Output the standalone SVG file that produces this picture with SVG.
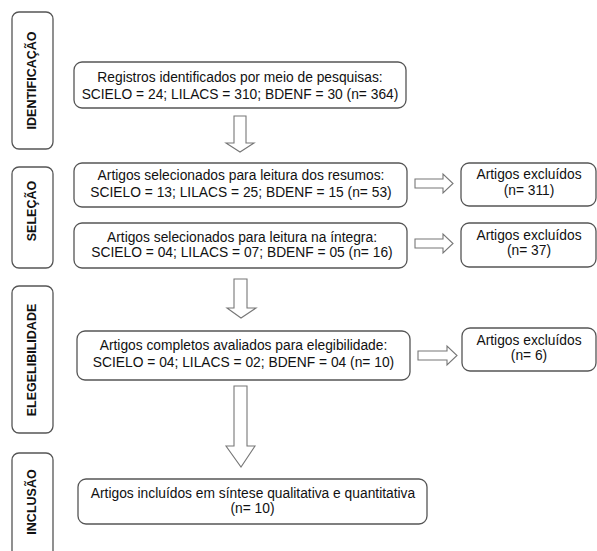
<svg xmlns="http://www.w3.org/2000/svg" width="597" height="551" viewBox="0 0 597 551">
<style>
.box{fill:#fff;stroke:#555;stroke-width:1.3}
.t{font-family:"Liberation Sans",Arial,sans-serif;font-size:13.8px;fill:#111;text-anchor:middle}
.v{font-family:"Liberation Sans",Arial,sans-serif;font-size:12.5px;font-weight:bold;fill:#111;text-anchor:middle}
.arr{fill:#fff;stroke:#777;stroke-width:1.1;stroke-linejoin:miter}
</style>
<rect width="597" height="551" fill="#fff"/>
<g id="stage-identificacao">
<rect class="box" x="12" y="12" width="41" height="137" rx="7"/>
<text class="v" transform="translate(36,80.5) rotate(-90)">IDENTIFICAÇÃO</text>
</g>
<g id="stage-selecao">
<rect class="box" x="12" y="167" width="41" height="101" rx="7"/>
<text class="v" transform="translate(36,211) rotate(-90)">SELEÇÃO</text>
</g>
<g id="stage-elegibilidade">
<rect class="box" x="12" y="286" width="41" height="147" rx="7"/>
<text class="v" transform="translate(36,360) rotate(-90)">ELEGELIBILIDADE</text>
</g>
<g id="stage-inclusao">
<rect class="box" x="12" y="453" width="41" height="110" rx="7"/>
<text class="v" transform="translate(36,502) rotate(-90)">INCLUSÃO</text>
</g>
<g id="n1">
<rect class="box" x="74" y="62" width="332" height="46" rx="8"/>
<text class="t" x="240" y="82">Registros identificados por meio de pesquisas:</text>
<text class="t" x="240" y="98.5">SCIELO = 24; LILACS = 310; BDENF = 30 (n= 364)</text>
</g>
<g id="n2">
<rect class="box" x="74" y="163" width="333" height="44" rx="8"/>
<text class="t" x="241" y="180">Artigos selecionados para leitura dos resumos:</text>
<text class="t" x="241" y="196.5">SCIELO = 13; LILACS = 25; BDENF = 15 (n= 53)</text>
</g>
<g id="n3">
<rect class="box" x="74" y="223" width="333" height="45" rx="8"/>
<text class="t" x="242" y="241.5">Artigos selecionados para leitura na íntegra:</text>
<text class="t" x="242" y="257">SCIELO = 04; LILACS = 07; BDENF = 05 (n= 16)</text>
</g>
<g id="n4">
<rect class="box" x="77" y="331" width="333" height="49" rx="8"/>
<text class="t" x="243.5" y="350">Artigos completos avaliados para elegibilidade:</text>
<text class="t" x="243.5" y="366.5">SCIELO = 04; LILACS = 02; BDENF = 04 (n= 10)</text>
</g>
<g id="n5">
<rect class="box" x="78" y="479" width="349" height="45" rx="8"/>
<text class="t" x="253" y="498">Artigos incluídos em síntese qualitativa e quantitativa</text>
<text class="t" x="252.5" y="513">(n= 10)</text>
</g>
<g id="e1">
<rect class="box" x="461" y="163" width="135" height="43" rx="8"/>
<text class="t" x="529" y="179">Artigos excluídos</text>
<text class="t" x="529" y="195">(n= 311)</text>
</g>
<g id="e2">
<rect class="box" x="461" y="223" width="135" height="44" rx="8"/>
<text class="t" x="529" y="240">Artigos excluídos</text>
<text class="t" x="529" y="255">(n= 37)</text>
</g>
<g id="e3">
<rect class="box" x="462" y="328" width="134" height="43" rx="8"/>
<text class="t" x="529" y="345">Artigos excluídos</text>
<text class="t" x="529" y="360">(n= 6)</text>
</g>
<g id="connectors">
<polygon class="arr" points="234,116 246,116 246,143 254,143 240,152 226,143 234,143"/>
<polygon class="arr" points="234,279 247,279 247,308 256,308 241,318 227,308 234,308"/>
<polygon class="arr" points="234,386 247,386 247,446 255,446 241,467 226,446 234,446"/>
<polygon class="arr" points="415,179 443,179 443,174 453,183.5 443,193 443,188 415,188"/>
<polygon class="arr" points="415,239 443,239 443,234 453,243.5 443,253 443,248 415,248"/>
<polygon class="arr" points="418,351 447,351 447,346 457,355.5 447,365 447,360 418,360"/>
</g>
</svg>
